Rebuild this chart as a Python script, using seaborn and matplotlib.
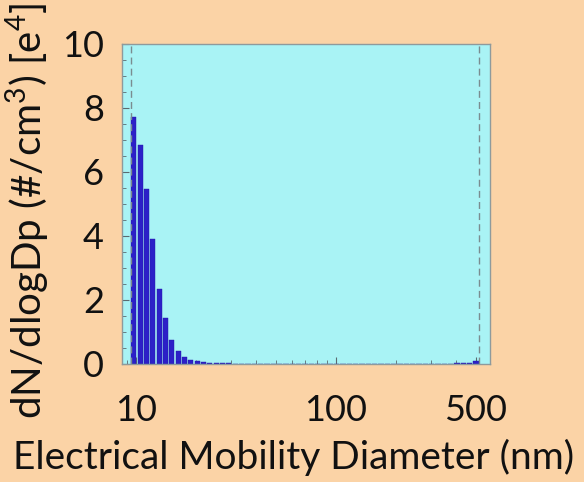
import numpy as np
import pandas as pd
import matplotlib
matplotlib.use("Agg")
import matplotlib.pyplot as plt
from matplotlib.ticker import FixedLocator, NullFormatter, AutoMinorLocator, LogLocator
import seaborn as sns

# ---- data ----
dp_min = 9.4      # lower scan limit (nm)
dp_max = 520.0    # upper scan limit (nm)
n_bins = 55
concentration_e4 = [
    7.73, 6.85, 5.47, 3.89, 2.34, 1.42, 0.74, 0.40, 0.22, 0.13,
    0.10, 0.06, 0.04, 0.03, 0.02, 0.015, 0.012, 0.010, 0.008, 0.007,
    0.006, 0.006, 0.005, 0.005, 0.005, 0.005, 0.004, 0.004, 0.004, 0.004,
    0.004, 0.004, 0.004, 0.004, 0.004, 0.004, 0.003, 0.003, 0.003, 0.003,
    0.003, 0.003, 0.003, 0.003, 0.003, 0.004, 0.004, 0.005, 0.006, 0.008,
    0.010, 0.015, 0.03, 0.03, 0.08,
]
xtick_values = [10, 100, 500]
xtick_labels = ["10", "100", "500"]
ytick_values = [0, 2, 4, 6, 8, 10]

edges = np.logspace(np.log10(dp_min), np.log10(dp_max), n_bins + 1)
centers = np.sqrt(edges[:-1] * edges[1:])
df = pd.DataFrame({"dp": centers, "val": concentration_e4})

sns.set_theme(style="ticks")
plt.rcParams["font.family"] = ["Lato", "DejaVu Sans"]
plt.rcParams["mathtext.fontset"] = "custom"
plt.rcParams["mathtext.rm"] = "Lato"
plt.rcParams["text.color"] = "#111111"
plt.rcParams["axes.labelcolor"] = "#111111"
plt.rcParams["xtick.labelcolor"] = "#111111"
plt.rcParams["ytick.labelcolor"] = "#111111"

fig = plt.figure(figsize=(5.84, 4.82), dpi=100)
fig.patch.set_facecolor("#FBD3A6")
ax = fig.add_axes([0.209, 0.245, 0.630, 0.664])
ax.set_facecolor("#A9F3F5")

sns.barplot(data=df, x="dp", y="val", native_scale=True, log_scale=(True, False),
            width=0.82, color="#2C20C8", edgecolor="#2418A8", linewidth=0.3,
            saturation=1, ax=ax, errorbar=None)

for x in (dp_min, dp_max):
    ax.axvline(x, color="#7A8C90", lw=1.0, ls=(0, (5, 3)), zorder=1)

ax.set_xlim(8.51, 589)
ax.set_ylim(0, 10)
ax.xaxis.set_major_locator(FixedLocator(xtick_values))
ax.set_xticklabels(xtick_labels)
ax.xaxis.set_minor_locator(LogLocator(base=10, subs=np.arange(2, 10)))
ax.xaxis.set_minor_formatter(NullFormatter())
ax.set_yticks(ytick_values)
ax.yaxis.set_minor_locator(AutoMinorLocator(4))

ax.tick_params(axis="both", which="both", direction="in", color="#5A6A70",
               top=False, right=False)
ax.tick_params(axis="both", which="major", length=5, width=0.8, labelsize=26,
               labelcolor="#111111")
ax.tick_params(axis="both", which="minor", length=3, width=0.6)
ax.tick_params(axis="x", which="major", pad=22)
ax.tick_params(axis="y", which="major", pad=13)
for s in ax.spines.values():
    s.set_color("#8E9A9C")
    s.set_linewidth(1.0)

ax.set_xlabel("Electrical Mobility Diameter (nm)", fontsize=28, color="#111111")
ax.xaxis.set_label_coords(0.467, -0.235)
ax.set_ylabel(r"dN/dlogDp (#/cm$^{3}$) [e$^{4}$]", fontsize=29, color="#111111")
ax.yaxis.set_label_coords(-0.19, 0.478)

fig.savefig("out.png", dpi=100, facecolor=fig.get_facecolor())
